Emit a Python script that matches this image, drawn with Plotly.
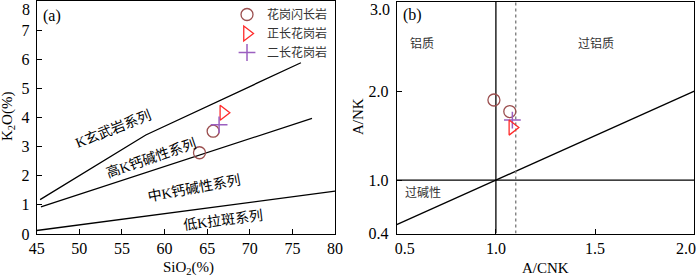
import plotly.graph_objects as go

# ---------------- data: panel (a) SiO2 vs K2O ----------------
sho_x = [45.4, 57.8, 76.0]
sho_y = [1.18, 3.40, 5.88]
hk_x = [45.5, 77.3]
hk_y = [0.93, 3.97]
lk_x = [45.0, 80.0]
lk_y = [0.12, 1.47]

gd_sio2 = [64.1, 65.7]        # 花岗闪长岩
gd_k2o = [2.79, 3.53]
kg_sio2 = [66.9]              # 正长花岗岩
kg_k2o = [4.16]
mg_sio2 = [66.4]              # 二长花岗岩
mg_k2o = [3.75]

# ---------------- data: panel (b) A/CNK vs A/NK ----------------
gd_acnk = [0.99, 1.07]
gd_ank = [1.90, 1.77]
kg_acnk = [1.083]
kg_ank = [1.59]
mg_acnk = [1.083]
mg_ank = [1.675]

diag_x = [0.5, 2.0]
diag_y = [0.5, 2.0]
vline_x = [1.0, 1.0]
vline_y = [0.4, 3.0]
hline_x = [0.5, 2.0]
hline_y = [1.0, 1.0]
dot_x = [1.1, 1.1]
dot_y = [0.4, 3.0]

xa_ticks = [45, 50, 55, 60, 65, 70, 75, 80]
ya_ticks = [0, 1, 2, 3, 4, 5, 6, 7, 8]
ya_text = ["0", "1", "2", "3", "4", "5", "6", "7", ""]   # "8" drawn nudged inside the page
xb_ticks = [0.5, 1.0, 1.5, 2.0]
xb_text = ["\u00a0\u00a0\u00a0\u00a00.5", "1.0", "1.5", ""]  # "2.0" drawn nudged inside
yb_ticks = [0.4, 1.0, 2.0, 3.0]
yb_text = ["0.4", "1.0", "2.0", ""]                      # "3.0" drawn nudged inside

names = ["花岗闪长岩", "正长花岗岩", "二长花岗岩"]
colors = ["#9B4F4F", "#FF2A2A", "#9B5FC0"]

SERIF = "Liberation Serif, Times New Roman, Noto Sans CJK SC"
CJK = "Liberation Serif, Noto Sans CJK SC"

fig = go.Figure()

line_style = dict(color="black", width=1.3)
for xs, ys in [(sho_x, sho_y), (hk_x, hk_y), (lk_x, lk_y)]:
    fig.add_trace(go.Scatter(x=xs, y=ys, mode="lines", line=line_style,
                             showlegend=False, hoverinfo="skip", xaxis="x", yaxis="y"))

fig.add_trace(go.Scatter(x=gd_sio2, y=gd_k2o, mode="markers", name=names[0],
                         marker=dict(symbol="circle-open", size=12, color=colors[0],
                                     line=dict(width=1.3, color=colors[0])),
                         xaxis="x", yaxis="y"))
fig.add_trace(go.Scatter(x=kg_sio2, y=kg_k2o, mode="markers", name=names[1],
                         marker=dict(symbol="triangle-right-open", size=13, color=colors[1],
                                     line=dict(width=1.3, color=colors[1])),
                         xaxis="x", yaxis="y"))
fig.add_trace(go.Scatter(x=mg_sio2, y=mg_k2o, mode="markers", name=names[2],
                         marker=dict(symbol="cross-thin-open", size=12, color=colors[2],
                                     line=dict(width=1.5, color=colors[2])),
                         xaxis="x", yaxis="y"))

# panel b lines
for xs, ys in [(diag_x, diag_y), (vline_x, vline_y), (hline_x, hline_y)]:
    fig.add_trace(go.Scatter(x=xs, y=ys, mode="lines", line=line_style,
                             showlegend=False, hoverinfo="skip", xaxis="x2", yaxis="y2"))
fig.add_trace(go.Scatter(x=dot_x, y=dot_y, mode="lines",
                         line=dict(color="#777777", width=1.3, dash="dot"),
                         showlegend=False, hoverinfo="skip", xaxis="x2", yaxis="y2"))

fig.add_trace(go.Scatter(x=gd_acnk, y=gd_ank, mode="markers", showlegend=False,
                         marker=dict(symbol="circle-open", size=12, color=colors[0],
                                     line=dict(width=1.3, color=colors[0])),
                         xaxis="x2", yaxis="y2"))
fig.add_trace(go.Scatter(x=mg_acnk, y=mg_ank, mode="markers", showlegend=False,
                         marker=dict(symbol="cross-thin-open", size=12, color=colors[2],
                                     line=dict(width=1.5, color=colors[2])),
                         xaxis="x2", yaxis="y2"))
fig.add_trace(go.Scatter(x=kg_acnk, y=kg_ank, mode="markers", showlegend=False,
                         marker=dict(symbol="triangle-right-open", size=13, color=colors[1],
                                     line=dict(width=1.3, color=colors[1])),
                         xaxis="x2", yaxis="y2"))

axis_common = dict(showline=True, linecolor="black", linewidth=1.2, mirror=True,
                   ticks="inside", ticklen=5, tickcolor="black", tickwidth=1,
                   showgrid=False, zeroline=False, ticklabeloverflow="allow",
                   tickfont=dict(family=SERIF, size=16, color="black"))

fig.update_layout(
    template="none",
    width=700, height=279,
    margin=dict(l=0, r=0, t=0, b=0),
    paper_bgcolor="white", plot_bgcolor="white",
    showlegend=True,
    legend=dict(x=0.3243, y=1.0, xanchor="left", yanchor="top",
                bgcolor="rgba(0,0,0,0)", font=dict(family=CJK, size=12, color="#333333"),
                tracegroupgap=0, itemwidth=30),
    xaxis=dict(domain=[0.0524, 0.4786], range=[45, 80], tickvals=xa_ticks,
               ticklabelstandoff=0, **axis_common),
    yaxis=dict(domain=[0.1613, 0.9964], range=[0, 8], tickvals=ya_ticks, ticktext=ya_text,
               ticklabelstandoff=3, **axis_common),
    xaxis2=dict(domain=[0.5667, 0.9919], range=[0.5, 2.0], tickvals=xb_ticks,
                ticktext=xb_text, ticklabelstandoff=0, anchor="y2", **axis_common),
    yaxis2=dict(domain=[0.1627, 0.9928], range=[0.4, 3.0], tickvals=yb_ticks,
                ticktext=yb_text, ticklabelstandoff=4, anchor="x2", **axis_common),
)

ann = []
def add_text(txt, x, y, xref, yref, size=14, angle=0, family=CJK, color="black",
             xanchor="center", yanchor="middle", pad=1):
    ann.append(dict(text=txt, x=x, y=y, xref=xref, yref=yref, showarrow=False,
                    textangle=angle, font=dict(family=family, size=size, color=color),
                    xanchor=xanchor, yanchor=yanchor, borderpad=pad))

add_text("(a)", 46.8, 7.47, "x", "y", size=16, family=SERIF)
add_text("K玄武岩系列", 53.9, 3.62, "x", "y", size=14, angle=-21.5)
add_text("高K钙碱性系列", 58.4, 2.61, "x", "y", size=14, angle=-19)
add_text("中K钙碱性系列", 63.5, 1.57, "x", "y", size=14, angle=-10.5)
add_text("低K拉斑系列", 66.9, 0.48, "x", "y", size=14, angle=-7)

add_text("(b)", 0.582, 2.85, "x2", "y2", size=16, family=SERIF)
add_text("铝质", 0.626, 2.53, "x2", "y2", size=12, color="#333333")
add_text("过铝质", 1.503, 2.53, "x2", "y2", size=12, color="#333333")
add_text("过碱性", 0.631, 0.86, "x2", "y2", size=12, color="#333333")

# end tick labels nudged inside the page, as in the reference
add_text("8", 31 / 700, 1.0, "paper", "paper", size=16, family=SERIF,
         xanchor="right", yanchor="top", pad=0)
add_text("3.0", 391 / 700, 1.0, "paper", "paper", size=16, family=SERIF,
         xanchor="right", yanchor="top", pad=0)
add_text("2.0", 698 / 700, 1 - 248 / 279, "paper", "paper", size=16, family=SERIF, xanchor="right")

# axis titles
add_text("SiO<sub>2</sub>(%)", 188 / 700, 1 - 268 / 279, "paper", "paper", size=15, family=SERIF)
add_text("K<sub>2</sub>O(%)", 8 / 700, 1 - 117 / 279, "paper", "paper", size=15, angle=-90, family=SERIF)
add_text("A/CNK", 545 / 700, 1 - 268 / 279, "paper", "paper", size=15, family=SERIF)
add_text("A/NK", 358 / 700, 1 - 117 / 279, "paper", "paper", size=15, angle=-90, family=SERIF)

fig.update_layout(annotations=ann)

fig.write_html("out.html", config={"displayModeBar": False},
               post_script="document.body.style.margin='0';document.body.style.overflow='hidden';")
